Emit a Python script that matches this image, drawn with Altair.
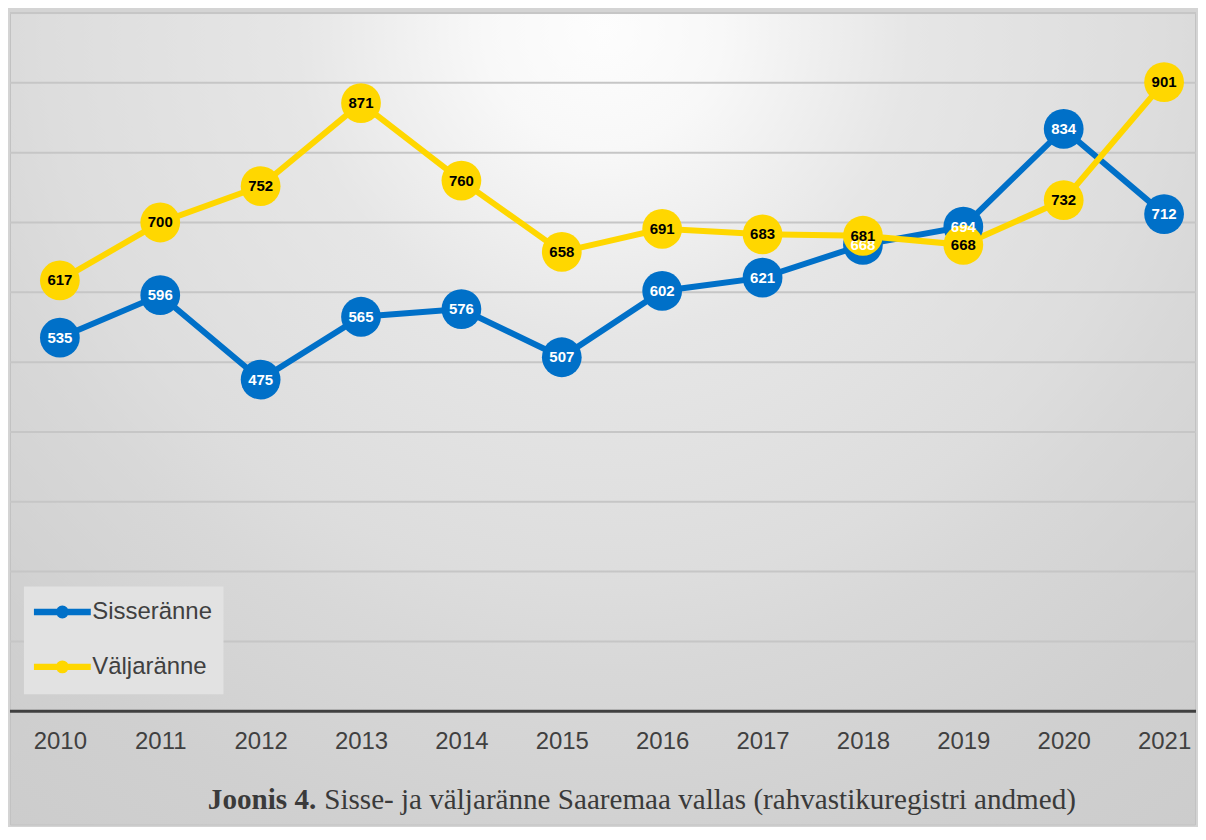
import altair as alt
import pandas as pd

years = [str(y) for y in range(2010, 2022)]
sisse = [535, 596, 475, 565, 576, 507, 602, 621, 668, 694, 834, 712]
valja = [617, 700, 752, 871, 760, 658, 691, 683, 681, 668, 732, 901]
series_names = ["Sisseränne", "Väljaränne"]
series_colors = ["#0070C8", "#FFD700"]
label_colors = ["white", "black"]
grid_values = list(range(100, 1001, 100))
baseline_values = [0]
caption_bold = "Joonis 4."
caption_text = "Sisse- ja väljaränne Saaremaa vallas (rahvastikuregistri andmed)"

df = pd.DataFrame({
    "year": years * 2,
    "value": sisse + valja,
    "series": [series_names[0]] * len(years) + [series_names[1]] * len(years),
})
grid_df = pd.DataFrame({"g": grid_values})
base_df = pd.DataFrame({"g": baseline_values})

W, H = 1189, 700
BG_H = 814

# legend symbol: a line with a dot (stroked path)
sym_path = ("M-2.478,0H2.478"
            "M-0.2826,0A0.2826,0.2826 0 1,1 0.2826,0A0.2826,0.2826 0 1,1 -0.2826,0")

x_enc = alt.X(
    "year:O",
    sort=years,
    scale=alt.Scale(type="point", range=[50, 1157], padding=0),
    axis=alt.Axis(
        title=None, labelAngle=0, ticks=False, grid=False, domain=False,
        labelFont="Liberation Sans", labelFontSize=24, labelColor="#404040",
        labelPadding=18, zindex=1,
    ),
)
y_scale = alt.Scale(domain=[0, 1000], nice=False)
y_enc = alt.Y("value:Q", scale=y_scale, axis=None)
color_enc = alt.Color(
    "series:N",
    sort=series_names,
    scale=alt.Scale(domain=series_names, range=series_colors),
    legend=alt.Legend(
        title=None, orient="none", legendX=14, legendY=575, direction="vertical",
        symbolType=sym_path, symbolSize=529, symbolStrokeWidth=6.5,
        symbolOffset=13, labelOffset=15,
        labelFont="Liberation Sans", labelFontSize=24, labelColor="#404040",
        fillColor="#e2e2e2", padding=10.5, rowPadding=21,
    ),
)

gradient = {
    "gradient": "radial",
    "x1": 0.5, "y1": 0.17, "r1": 0,
    "x2": 0.5, "y2": 0.17, "r2": 1,
    "stops": [
        {"offset": 0, "color": "#fdfdfd"},
        {"offset": 0.1, "color": "#f8f8f8"},
        {"offset": 0.26, "color": "#e6e6e6"},
        {"offset": 0.47, "color": "#dddddd"},
        {"offset": 0.54, "color": "#d8d8d8"},
        {"offset": 0.7, "color": "#d0d0d0"},
        {"offset": 1, "color": "#c8c8c8"},
    ],
}

bg = alt.Chart(pd.DataFrame({"a": [0]})).mark_rect(
    fill=gradient, stroke="#c2c2c2", strokeWidth=1
).encode(x=alt.value(0.5), x2=alt.value(W - 0.5), y=alt.value(0.5), y2=alt.value(BG_H))

grid = alt.Chart(grid_df).mark_rule(color="#c6c6c6", strokeWidth=2).encode(
    y=alt.Y("g:Q", scale=y_scale, axis=None)
)
baseline = alt.Chart(base_df).mark_rule(color="#404040", strokeWidth=3).encode(
    y=alt.Y("g:Q", scale=y_scale, axis=None)
)

base = alt.Chart(df).encode(x=x_enc, y=y_enc)

lines = base.mark_line(strokeWidth=6).encode(color=color_enc)
points = base.mark_circle(size=1590, opacity=1).encode(color=color_enc)

texts = []
for name, tc in zip(series_names, label_colors):
    texts.append(
        base.transform_filter(alt.datum.series == name)
        .mark_text(font="Liberation Sans", fontSize=15, fontWeight="bold",
                   color=tc, baseline="middle", align="center")
        .encode(text="value:Q")
    )

cap1 = alt.Chart(pd.DataFrame({"t": [caption_bold]})).mark_text(
    font="Liberation Serif", fontSize=29.2, fontWeight="bold", align="right",
    baseline="alphabetic", color="#3a3a3a"
).encode(x=alt.value(307), y=alt.value(798), text="t:N")
cap2 = alt.Chart(pd.DataFrame({"t": [caption_text]})).mark_text(
    font="Liberation Serif", fontSize=29.2, align="left",
    baseline="alphabetic", color="#3a3a3a"
).encode(x=alt.value(315), y=alt.value(798), text="t:N")

chart = alt.layer(bg, grid, baseline, lines, points, *texts, cap1, cap2).properties(
    width=W, height=H,
    padding={"left": 0, "top": 3, "right": 0, "bottom": 0},
    background="#d4d4d4",
).configure_view(strokeWidth=0)

chart.save("out.html", embed_options={"renderer": "svg", "actions": False})
